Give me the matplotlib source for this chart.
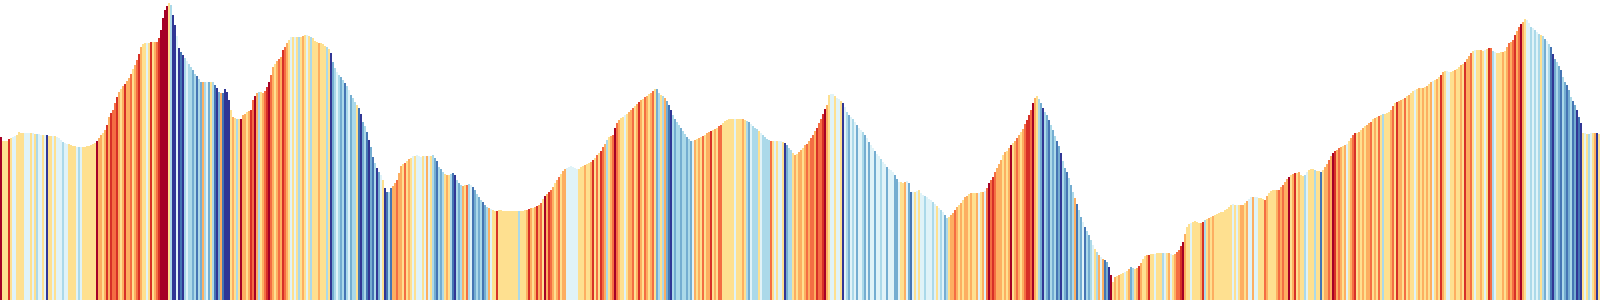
import matplotlib
matplotlib.use("Agg")
import matplotlib.pyplot as plt
from matplotlib.colors import ListedColormap
import numpy as np

# Elevation profile (bar heights, arbitrary units), one value per 2-px bar
elevation = [
    163, 159, 159, 159, 161, 162, 163, 164, 165, 168,
    167, 167, 167, 167, 167, 167, 167, 166, 166, 166,
    165, 165, 165, 165, 164, 164, 164, 164, 163, 162,
    160, 158, 157, 156, 156, 155, 154, 154, 153, 153,
    153, 153, 153, 154, 154, 155, 156, 157, 159, 162,
    165, 167, 170, 175, 183, 187, 190, 197, 203, 208,
    211, 214, 216, 219, 222, 226, 231, 235, 240, 246,
    253, 256, 257, 257, 257, 258, 258, 258, 258, 262,
    270, 282, 290, 294, 297, 295, 285, 275, 264, 252,
    248, 245, 242, 239, 236, 233, 230, 226, 224, 221,
    218, 218, 218, 218, 218, 218, 218, 215, 212, 208,
    207, 207, 211, 208, 200, 190, 183, 182, 181, 181,
    181, 185, 186, 188, 189, 190, 200, 204, 207, 208,
    208, 207, 209, 213, 218, 225, 233, 236, 239, 241,
    243, 250, 253, 257, 260, 263, 263, 263, 263, 263,
    263, 264, 265, 265, 264, 263, 262, 259, 258, 257,
    257, 256, 254, 253, 251, 247, 238, 232, 228, 225,
    223, 220, 217, 214, 210, 205, 202, 198, 195, 192,
    186, 178, 174, 168, 160, 153, 143, 137, 132, 128,
    125, 120, 112, 108, 108, 112, 114, 117, 120, 127,
    134, 136, 137, 139, 141, 142, 144, 144, 145, 144,
    143, 144, 144, 144, 144, 144, 145, 142, 139, 133,
    131, 128, 126, 125, 125, 126, 127, 125, 120, 117,
    115, 114, 115, 115, 116, 115, 113, 110, 106, 103,
    100, 98, 95, 93, 92, 91, 90, 89, 89, 90,
    90, 89, 89, 89, 89, 89, 89, 89, 89, 89,
    89, 89, 90, 90, 91, 92, 92, 93, 94, 95,
    97, 101, 104, 106, 108, 110, 113, 117, 120, 123,
    126, 129, 131, 132, 133, 134, 133, 132, 131, 131,
    133, 134, 135, 136, 137, 138, 140, 142, 145, 147,
    149, 153, 156, 160, 163, 164, 165, 172, 177, 180,
    182, 183, 185, 186, 188, 190, 192, 194, 196, 198,
    200, 201, 203, 204, 206, 207, 209, 211, 211, 207,
    205, 204, 202, 199, 195, 190, 185, 181, 178, 175,
    172, 169, 166, 163, 161, 159, 159, 160, 161, 162,
    163, 164, 165, 167, 168, 169, 170, 171, 172, 174,
    175, 177, 179, 180, 181, 181, 181, 181, 181, 181,
    181, 181, 180, 179, 178, 176, 174, 172, 171, 169,
    167, 165, 163, 161, 160, 159, 159, 159, 159, 159,
    159, 158, 157, 155, 152, 150, 147, 145, 146, 148,
    150, 152, 155, 156, 159, 162, 165, 169, 172, 177,
    181, 186, 191, 195, 205, 206, 206, 204, 202, 201,
    199, 197, 193, 188, 185, 183, 181, 178, 175, 172,
    170, 168, 165, 162, 158, 155, 152, 149, 146, 144,
    141, 138, 136, 133, 131, 130, 128, 125, 121, 118,
    118, 117, 118, 119, 117, 108, 108, 108, 109, 110,
    107, 105, 104, 103, 101, 100, 98, 96, 94, 92,
    90, 88, 85, 82, 83, 85, 87, 90, 93, 95,
    97, 100, 103, 104, 106, 107, 107, 107, 107, 107,
    108, 108, 109, 112, 117, 120, 123, 128, 132, 136,
    140, 145, 148, 149, 152, 155, 157, 159, 162, 165,
    168, 171, 176, 180, 185, 190, 197, 202, 204, 201,
    197, 192, 188, 185, 180, 175, 170, 164, 159, 154,
    147, 139, 132, 128, 122, 115, 108, 102, 96, 90,
    83, 78, 73, 69, 65, 60, 55, 51, 48, 45,
    43, 41, 40, 38, 33, 25, 18, 23, 24, 25,
    26, 27, 28, 29, 31, 33, 32, 31, 32, 34,
    37, 41, 44, 45, 45, 46, 46, 46, 47, 47,
    47, 47, 47, 47, 47, 46, 45, 46, 48, 50,
    54, 58, 66, 73, 76, 77, 78, 79, 78, 77,
    77, 78, 80, 81, 82, 83, 84, 85, 86, 87,
    88, 88, 90, 91, 93, 95, 96, 95, 95, 95,
    95, 95, 97, 99, 101, 103, 103, 103, 103, 102,
    102, 101, 100, 104, 107, 109, 110, 110, 110, 110,
    113, 115, 118, 121, 123, 125, 126, 127, 127, 128,
    125, 124, 125, 128, 130, 131, 131, 130, 129, 129,
    128, 130, 133, 136, 140, 144, 147, 149, 150, 152,
    153, 154, 155, 156, 159, 162, 165, 167, 167, 168,
    170, 172, 174, 175, 177, 178, 181, 182, 183, 184,
    185, 186, 186, 187, 188, 190, 194, 197, 198, 199,
    200, 201, 202, 204, 205, 207, 209, 210, 211, 212,
    212, 212, 213, 214, 216, 218, 219, 220, 221, 223,
    225, 228, 229, 229, 228, 228, 229, 230, 231, 233,
    235, 236, 238, 241, 244, 247, 249, 250, 250, 250,
    250, 249, 250, 251, 252, 252, 249, 248, 247, 247,
    248, 248, 249, 253, 257, 258, 260, 265, 269, 273,
    276, 278, 281, 280, 277, 273, 272, 270, 268, 266,
    265, 264, 261, 259, 256, 253, 246, 241, 238, 234,
    230, 223, 218, 215, 210, 203, 199, 195, 190, 183,
    177, 167, 167, 166, 166, 167, 167, 167, 167, 166,
]

# Gradient class of each bar (0 = steep descent ... 9 = steep climb)
grade_class = (
    "9555854455" "5544454534" "4540554544" "4344555543" "4555555596"
    "6568687786" "5686675678" "6554585678" "9999530040" "1034332313"
    "2634253102" "6100056535" "9665687963" "5678976567" "6876545453"
    "5654535556" "5553502343" "2313423351" "0231021302" "4501316676"
    "6575654544" "4546453213" "2356531032" "3657341232" "3123645585"
    "5555555553" "5556865686" "7596876567" "5664444445" "5565568575"
    "8763567976" "5545667568" "6576567523" "5362103233" "2332324656"
    "5756685657" "7555555455" "5653243335" "4333375454" "4502335656"
    "6567677687" "7896544544" "5043243424" "4324244244" "3442444224"
    "5564214545" "4434443454" "3423566765" "6566565564" "5647978766"
    "6565695676" "5678879653" "2032132312" "0321323613" "2413234536"
    "4612095656" "5545623568" "6556855455" "5345645677" "8965545555"
    "6835656555" "5555554545" "6656446445" "5576555567" "6766956856"
    "5534555355" "1566769867" "6564567856" "5656675657" "5355567586"
    "6575655456" "5656564565" "8654455655" "6586675455" "6545873455"
    "5656767867" "9654434343" "5324310232" "1321231201" "0545345605"
)

palette = ["#313695", "#4575b4", "#74add1", "#abd9e9", "#e0f3f8",
           "#fee090", "#fdae61", "#f46d43", "#d73027", "#a50026"]
cmap = ListedColormap(palette)

elev = np.array(elevation, dtype=float)
cls = np.array([int(c) for c in grade_class])
n = len(elev)
x = np.arange(n)
colors = cmap(cls / 9.0)

fig = plt.figure(figsize=(16, 3), dpi=100)
ax = fig.add_axes([0, 0, 1, 1])
ax.bar(x, elev, width=1.0, align="edge", color=colors, linewidth=0,
       antialiased=False)
ax.set_xlim(0, n)
ax.set_ylim(0, 300)
ax.axis("off")
fig.savefig("out.png", dpi=100, facecolor="white")
